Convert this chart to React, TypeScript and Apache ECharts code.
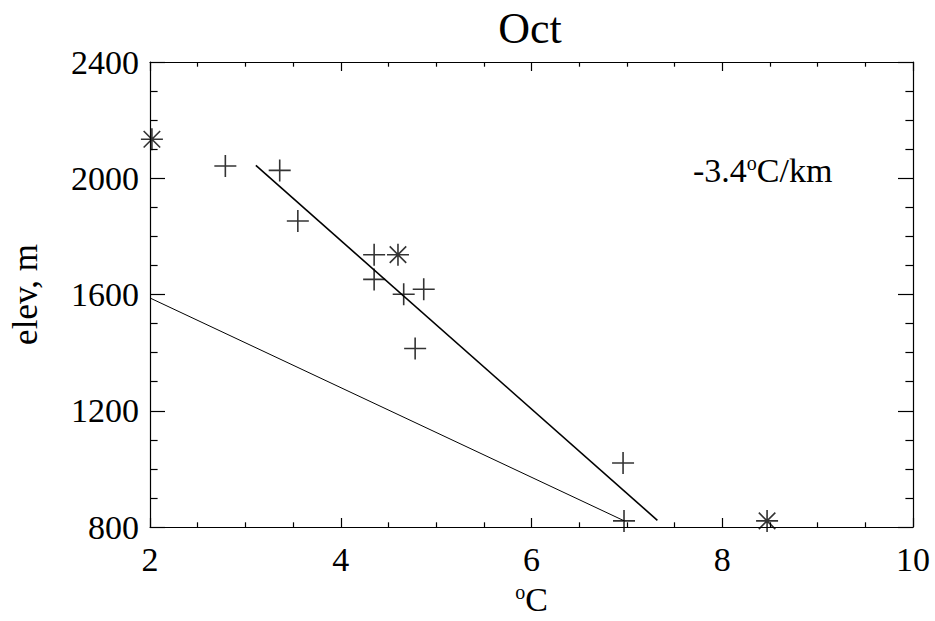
import React, { useEffect, useRef } from "react";
import * as echarts from "echarts";

// Data
const plusPoints: [number, number][] = [
  [2.79, 2042],
  [3.36, 2027],
  [3.55, 1853],
  [4.35, 1737],
  [4.35, 1652],
  [4.66, 1601],
  [4.87, 1618],
  [4.78, 1414],
  [6.96, 1020],
  [6.97, 821],
];
const starPoints: [number, number][] = [
  [2.02, 2134],
  [4.6, 1737],
  [8.47, 821],
];
const fitLine: [number, number][] = [
  [3.11, 2044],
  [7.32, 823],
];
const refLine: [number, number][] = [
  [2.0, 1588],
  [6.98, 820],
];
const titleText = "Oct";
const yName = "elev, m";
const lapseLabel = "-3.4{s|o}C/km";
const xName = "{s|o}C";

const FONT = "'Liberation Serif', 'Times New Roman', serif";

export default function App() {
  const ref = useRef<HTMLDivElement>(null);
  useEffect(() => {
    if (!ref.current) return;
    const chart = echarts.init(ref.current, undefined, { renderer: "svg" });
    const tickLabel = { color: "#000", fontFamily: FONT, fontSize: 34 };
    const axLine = { show: true, lineStyle: { color: "#000", width: 1.2 } };
    const xTick = { show: true, inside: true, length: 9, lineStyle: { color: "#000", width: 1.2 } };
    const xMinor = { show: true, splitNumber: 4, length: 4.7, lineStyle: { color: "#000", width: 1.2 } };
    const yTick = { show: true, inside: true, length: 15, lineStyle: { color: "#000", width: 1.2 } };
    const yMinor = { show: true, splitNumber: 4, length: 7.6, lineStyle: { color: "#000", width: 1.2 } };
    const supRich = {
      s: { fontFamily: FONT, fontSize: 20, color: "#000", verticalAlign: "top", lineHeight: 22 },
    };
    const plain = (v: number) => String(v);
    chart.setOption({
      animation: false,
      backgroundColor: "#fff",
      title: {
        text: titleText,
        left: 530,
        textAlign: "center",
        top: 6,
        padding: 0,
        textStyle: { fontFamily: FONT, fontSize: 44, fontWeight: "normal", color: "#000" },
      },
      grid: { left: 148, right: 22, top: 62, bottom: 89, containLabel: false },
      xAxis: [
        {
          type: "value",
          position: "bottom",
          min: 2,
          max: 10,
          interval: 2,
          axisLine: axLine,
          axisTick: xTick,
          minorTick: xMinor,
          splitLine: { show: false },
          axisLabel: { ...tickLabel, margin: 15, formatter: plain },
          name: xName,
          nameLocation: "middle",
          nameGap: 55,
          nameTextStyle: {
            fontFamily: FONT,
            fontSize: 34,
            color: "#000",
            rich: supRich,
          },
        },
        {
          type: "value",
          position: "top",
          min: 2,
          max: 10,
          interval: 2,
          axisLine: axLine,
          axisTick: xTick,
          minorTick: xMinor,
          splitLine: { show: false },
          axisLabel: { show: false },
        },
      ],
      yAxis: [
        {
          type: "value",
          position: "left",
          min: 800,
          max: 2400,
          interval: 400,
          axisLine: axLine,
          axisTick: yTick,
          minorTick: yMinor,
          splitLine: { show: false },
          axisLabel: { ...tickLabel, margin: 11, formatter: plain },
          name: yName,
          nameLocation: "middle",
          nameGap: 107,
          nameRotate: 90,
          nameTextStyle: { fontFamily: FONT, fontSize: 35, color: "#000" },
        },
        {
          type: "value",
          position: "right",
          min: 800,
          max: 2400,
          interval: 400,
          axisLine: axLine,
          axisTick: yTick,
          minorTick: yMinor,
          splitLine: { show: false },
          axisLabel: { show: false },
        },
      ],
      graphic: [
        {
          type: "text",
          left: 693,
          top: 153,
          style: {
            text: lapseLabel,
            fontFamily: FONT,
            fontSize: 34,
            fill: "#000",
            rich: supRich,
          },
        },
      ],
      series: [
        {
          type: "line",
          data: fitLine,
          symbol: "none",
          lineStyle: { color: "#000", width: 1.6 },
          silent: true,
        },
        {
          type: "line",
          data: refLine,
          symbol: "none",
          lineStyle: { color: "#000", width: 1 },
          silent: true,
        },
        {
          type: "scatter",
          data: plusPoints,
          symbol: "path://M10,0L10,20M0,10L20,10",
          symbolSize: 22,
          itemStyle: { color: "transparent", borderColor: "#000", borderWidth: 1.6 },
          silent: true,
        },
        {
          type: "scatter",
          data: starPoints,
          symbol: "path://M10,0L10,20M0,10L20,10M2.5,2.5L17.5,17.5M2.5,17.5L17.5,2.5",
          symbolSize: 22,
          itemStyle: { color: "transparent", borderColor: "#000", borderWidth: 1.6 },
          silent: true,
        },
      ],
    });
    return () => chart.dispose();
  }, []);
  return (
    <div
      ref={ref}
      style={{ position: "fixed", left: 0, top: 0, width: 935, height: 621, background: "#fff" }}
    />
  );
}
